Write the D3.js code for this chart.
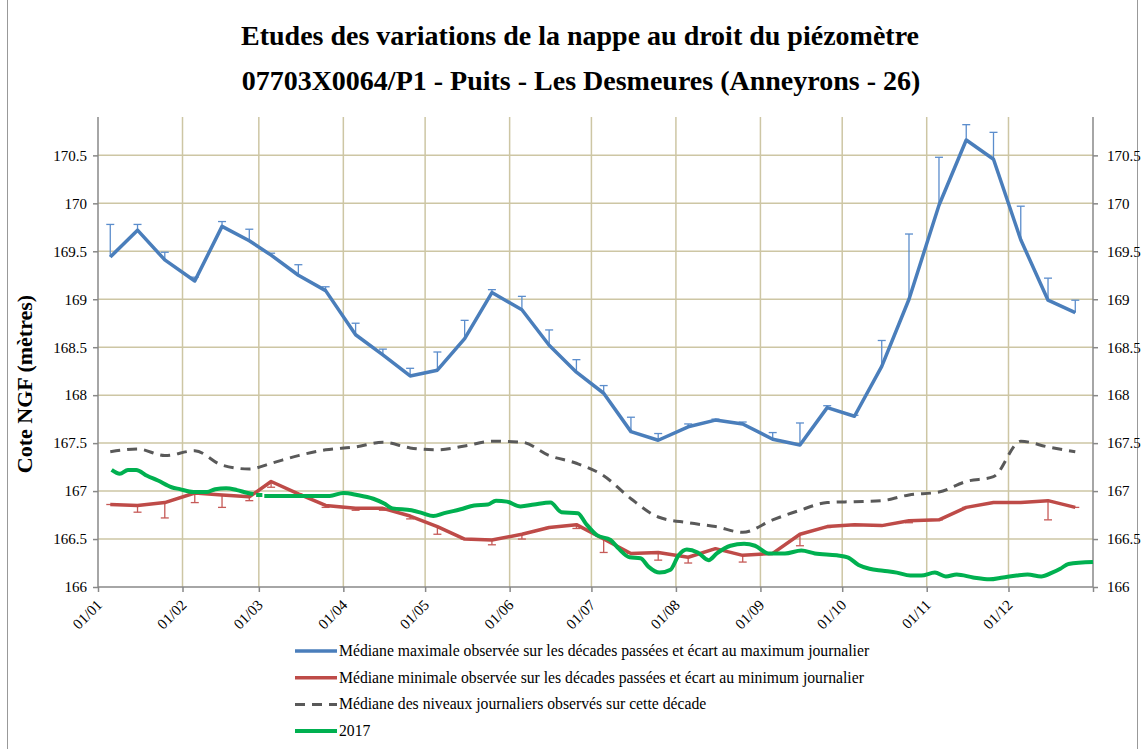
<!DOCTYPE html>
<html>
<head>
  <meta charset="utf-8">
  <title>Piézomètre 07703X0064/P1</title>
  <script src="https://d3js.org/d3.v7.min.js"></script>
  <style>
    body { margin: 0; background: #fff; }
    svg text { font-family: "Liberation Serif", "Times New Roman", serif; fill: #000; }
  </style>
</head>
<body>
<div id="graphe"></div>
<script>
// decades (points at the 5th, 15th and 25th of each month)
var decades = [
  "2017-01-05","2017-01-15","2017-01-25","2017-02-05","2017-02-15","2017-02-25",
  "2017-03-05","2017-03-15","2017-03-25","2017-04-05","2017-04-15","2017-04-25",
  "2017-05-05","2017-05-15","2017-05-25","2017-06-05","2017-06-15","2017-06-25",
  "2017-07-05","2017-07-15","2017-07-25","2017-08-05","2017-08-15","2017-08-25",
  "2017-09-05","2017-09-15","2017-09-25","2017-10-05","2017-10-15","2017-10-25",
  "2017-11-05","2017-11-15","2017-11-25","2017-12-05","2017-12-15","2017-12-25"
];

var medMax = [169.44,169.72,169.41,169.19,169.76,169.61,169.46,169.25,169.09,168.63,168.42,168.20,
              168.26,168.59,169.07,168.89,168.52,168.24,168.02,167.62,167.53,167.67,167.74,167.70,
              167.54,167.48,167.87,167.78,168.30,169.00,169.98,170.66,170.46,169.62,168.99,168.86];
var maxJour = [169.78,169.78,169.49,169.23,169.81,169.73,169.48,169.36,169.13,168.75,168.48,168.28,
               168.45,168.78,169.10,169.03,168.68,168.37,168.10,167.77,167.60,167.70,167.75,167.72,
               167.61,167.71,167.89,167.79,168.57,169.68,170.48,170.82,170.74,169.97,169.22,168.99];

var medMin = [166.86,166.85,166.88,166.98,166.96,166.94,167.10,166.97,166.85,166.82,166.82,166.74,
              166.63,166.50,166.49,166.55,166.62,166.65,166.50,166.35,166.36,166.31,166.40,166.33,
              166.35,166.55,166.63,166.65,166.64,166.69,166.70,166.83,166.88,166.88,166.90,166.83];
var minJour = [166.86,166.78,166.72,166.88,166.83,166.90,167.04,166.97,166.83,166.80,166.80,166.71,
               166.55,166.50,166.44,166.50,166.62,166.61,166.36,166.35,166.28,166.25,166.40,166.26,
               166.35,166.43,166.62,166.65,166.64,166.67,166.70,166.83,166.88,166.88,166.70,166.83];

var medJour = [167.41,167.44,167.37,167.42,167.27,167.23,167.29,167.37,167.43,167.46,167.51,167.45,
               167.43,167.47,167.52,167.51,167.37,167.29,167.16,166.92,166.73,166.67,166.63,166.57,
               166.70,166.80,166.88,166.89,166.90,166.96,166.99,167.10,167.15,167.52,167.46,167.41];

// 2017 : jour de l'année (depuis le 01/01) et niveau, null = lacune
var jours2017 = [5,8,11,14,18,22,27,30,35,40,43,47,51,55,57,57.5,58,60.3,60.7,61,63,70,77,85,90,95,
                 101,105,108,115,119,123,127,133,138,143,146,150,155,160,166,170,176,179,183,188,191,
                 195,199,202,206,210,213,216,220,224,227,232,237,241,246,252,258,263,271,275,279,283,
                 288,293,298,302,307,311,315,321,327,332,337,341,346,350,353,356,365];
var niv2017 = [167.22,167.18,167.22,167.22,167.16,167.11,167.04,167.02,166.99,166.99,167.02,167.03,
               167.01,166.98,166.97,null,166.96,166.96,null,166.95,166.95,166.95,166.95,166.95,166.98,
               166.96,166.92,166.87,166.82,166.80,166.77,166.74,166.77,166.81,166.85,166.86,166.90,
               166.89,166.84,166.86,166.88,166.78,166.77,166.66,166.54,166.49,166.40,166.31,166.30,
               166.21,166.15,166.18,166.33,166.39,166.36,166.28,166.35,166.43,166.45,166.43,166.35,
               166.35,166.38,166.35,166.33,166.31,166.23,166.19,166.17,166.15,166.12,166.12,166.15,
               166.11,166.13,166.10,166.08,166.10,166.12,166.13,166.11,166.15,166.19,166.24,166.26];

var mois = ["01/01","01/02","01/03","01/04","01/05","01/06","01/07","01/08","01/09","01/10","01/11","01/12"];
var graduations = [166,166.5,167,167.5,168,168.5,169,169.5,170,170.5];

var legende = [
  "Médiane maximale observée sur les décades passées et écart au maximum journalier",
  "Médiane minimale observée sur les décades passées et écart au minimum journalier",
  "Médiane des niveaux journaliers observés sur cette décade",
  "2017"
];

var bleu = "#4a7ebb", rouge = "#be4b48", gris = "#595959", vert = "#00b050";

var debut = new Date(2017, 0, 1);
var parse = d3.timeParse("%Y-%m-%d");
var datesDec = decades.map(function(s) { var d = parse(s); d.setHours(12); return d; });
var dates2017 = jours2017.map(function(j) { return new Date(debut.getTime() + j * 864e5); });
var datesMois = mois.map(function(m) { return d3.timeParse("%d/%m/%Y")(m + "/2017"); });

var svg = d3.select("#graphe").append("svg")
  .attr("width", 1144)
  .attr("height", 749);

var x = d3.scaleTime()
  .domain([debut, new Date(2018, 0, 1)])
  .range([98, 1093]);

var y = d3.scaleLinear()
  .domain([166, 170.9])
  .range([587, 117]);

// cadre
svg.append("line").attr("x1", 7.5).attr("x2", 7.5).attr("y1", 0).attr("y2", 749)
  .attr("stroke", "#999").attr("stroke-width", 1);
svg.append("line").attr("x1", 1137.5).attr("x2", 1137.5).attr("y1", 0).attr("y2", 749)
  .attr("stroke", "#999").attr("stroke-width", 1);

// titres
svg.append("text").attr("x", 580).attr("y", 45).attr("text-anchor", "middle")
  .attr("font-size", 28).attr("font-weight", "bold")
  .text("Etudes des variations de la nappe au droit du piézomètre");
svg.append("text").attr("x", 581).attr("y", 90).attr("text-anchor", "middle")
  .attr("font-size", 28).attr("font-weight", "bold")
  .text("07703X0064/P1 - Puits - Les Desmeures (Anneyrons - 26)");

// grille
svg.append("g").selectAll("line").data(graduations.slice(1)).enter().append("line")
  .attr("x1", x.range()[0]).attr("x2", x.range()[1])
  .attr("y1", function(d) { return y(d); }).attr("y2", function(d) { return y(d); })
  .attr("stroke", "#cdc6a4").attr("stroke-width", 1.5);
svg.append("g").selectAll("line").data(datesMois.slice(1)).enter().append("line")
  .attr("x1", function(d) { return x(d); }).attr("x2", function(d) { return x(d); })
  .attr("y1", y.range()[1]).attr("y2", y.range()[0])
  .attr("stroke", "#cdc6a4").attr("stroke-width", 1.5);

// axes
var fmt = function(d) { return String(d); };
var axeG = svg.append("g").attr("transform", "translate(" + x.range()[0] + ",0)")
  .call(d3.axisLeft(y).tickValues(graduations).tickFormat(fmt).tickSize(5).tickPadding(6));
var axeD = svg.append("g").attr("transform", "translate(" + x.range()[1] + ",0)")
  .call(d3.axisRight(y).tickValues(graduations).tickFormat(fmt).tickSize(5).tickPadding(9));
var axeX = svg.append("g").attr("transform", "translate(0," + y.range()[0] + ")")
  .call(d3.axisBottom(x).tickValues(datesMois.concat([new Date(2018, 0, 1)])).tickFormat("").tickSize(5));

[axeG, axeD, axeX].forEach(function(a) {
  a.attr("font-family", null);
  a.select(".domain").attr("stroke", "#888").attr("stroke-width", 1.5);
  a.selectAll(".tick line").attr("stroke", "#888").attr("stroke-width", 1.5);
  a.selectAll("text").attr("font-size", 15).attr("fill", "#000");
});
axeG.select(".domain").attr("d", "M0," + y.range()[1] + "V" + y.range()[0]);
axeD.select(".domain").attr("d", "M0," + y.range()[1] + "V" + y.range()[0]);
axeX.select(".domain").attr("d", "M" + x.range()[0] + ",0H" + x.range()[1]);

svg.append("g").selectAll("text").data(datesMois).enter().append("text")
  .attr("transform", function(d, i) { return "translate(" + (x(d) + 5) + ",606) rotate(-45)"; })
  .attr("text-anchor", "end")
  .attr("font-size", 15)
  .text(function(d, i) { return mois[i]; });

svg.append("text")
  .attr("transform", "translate(32,384) rotate(-90)")
  .attr("text-anchor", "middle")
  .attr("font-size", 22).attr("font-weight", "bold")
  .text("Cote NGF (mètres)");

// barres d'écart
function barres(valeurs, bornes, couleur) {
  var g = svg.append("g").attr("stroke", couleur).attr("stroke-width", 1.3);
  g.selectAll("line.v").data(valeurs).enter().append("line")
    .attr("x1", function(d, i) { return x(datesDec[i]); })
    .attr("x2", function(d, i) { return x(datesDec[i]); })
    .attr("y1", function(d) { return y(d); })
    .attr("y2", function(d, i) { return y(bornes[i]); });
  g.selectAll("line.c").data(bornes).enter().append("line")
    .attr("x1", function(d, i) { return x(datesDec[i]) - 4; })
    .attr("x2", function(d, i) { return x(datesDec[i]) + 4; })
    .attr("y1", function(d) { return y(d); })
    .attr("y2", function(d) { return y(d); });
}
barres(medMax, maxJour, "#5b8dcc");
barres(medMin, minJour, "#c65a57");

var ligne = d3.line()
  .x(function(d, i) { return x(datesDec[i]); })
  .y(function(d) { return y(d); });

svg.append("path").datum(medMax).attr("d", ligne)
  .attr("fill", "none").attr("stroke", bleu).attr("stroke-width", 3.5).attr("stroke-linejoin", "round");
svg.append("path").datum(medMin).attr("d", ligne)
  .attr("fill", "none").attr("stroke", rouge).attr("stroke-width", 3.5).attr("stroke-linejoin", "round");
svg.append("path").datum(medJour).attr("d", ligne.curve(d3.curveMonotoneX))
  .attr("fill", "none").attr("stroke", gris).attr("stroke-width", 3).attr("stroke-dasharray", "10,7");

var ligne2017 = d3.line()
  .defined(function(d) { return d != null; })
  .x(function(d, i) { return x(dates2017[i]); })
  .y(function(d) { return y(d); })
  .curve(d3.curveMonotoneX);

svg.append("path").datum(niv2017).attr("d", ligne2017)
  .attr("fill", "none").attr("stroke", vert).attr("stroke-width", 4).attr("stroke-linejoin", "round");

// légende
var styles = [
  { c: bleu, w: 3.5, dash: null },
  { c: rouge, w: 3.5, dash: null },
  { c: gris, w: 3, dash: "10,7" },
  { c: vert, w: 4, dash: null }
];
var leg = svg.append("g").selectAll("g").data(legende).enter().append("g")
  .attr("transform", function(d, i) { return "translate(0," + (651 + i * 26.7) + ")"; });
leg.append("line")
  .attr("x1", 295).attr("x2", 337).attr("y1", 0).attr("y2", 0)
  .attr("stroke", function(d, i) { return styles[i].c; })
  .attr("stroke-width", function(d, i) { return styles[i].w; })
  .attr("stroke-dasharray", function(d, i) { return styles[i].dash; });
leg.append("text")
  .attr("x", 339).attr("y", 5)
  .attr("font-size", 15.7)
  .text(function(d) { return d; });
</script>
</body>
</html>
